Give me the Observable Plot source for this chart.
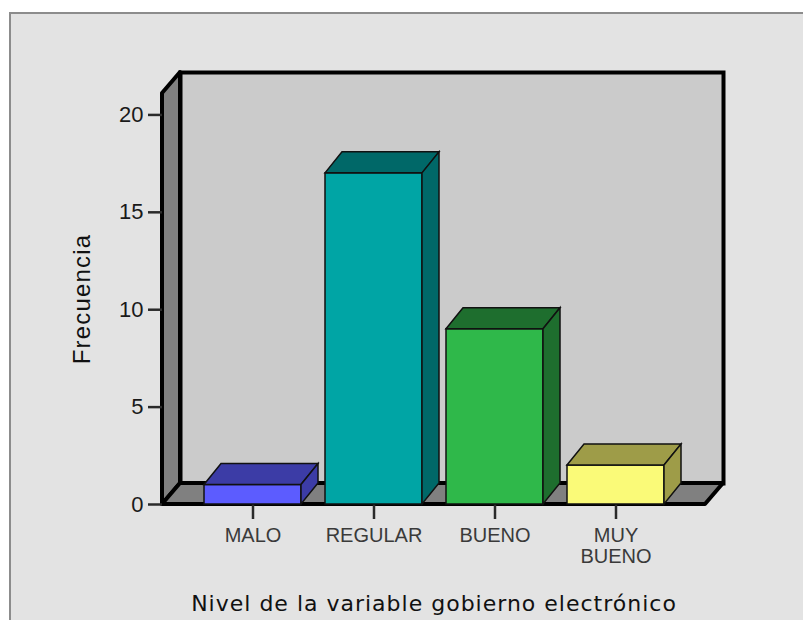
<!DOCTYPE html>
<html>
<head>
<meta charset="utf-8">
<script src="https://cdn.jsdelivr.net/npm/d3@7"></script>
<script src="https://cdn.jsdelivr.net/npm/@observablehq/plot@0.6"></script>
<style>
  html, body { margin: 0; padding: 0; background: #ffffff; width: 803px; height: 620px; overflow: hidden; }
  #panel { position: absolute; left: 9px; top: 12px; right: 0; bottom: 0; background: #e3e3e3;
           border-top: 2px solid #8c8c8c; border-left: 2px solid #8c8c8c; }
  #chart { position: absolute; left: 0; top: 0; }
</style>
</head>
<body>
<div id="panel"></div>
<div id="chart"></div>
<script>
// Frecuencia por nivel de la variable gobierno electrónico
const niveles = ["MALO", "REGULAR", "BUENO", "MUY BUENO"];
const frecuencias = [1, 17, 9, 2];
const etiquetas = ["MALO", "REGULAR", "BUENO", "MUY\nBUENO"];
const marcasY = [0, 5, 10, 15, 20];
const maxY = 21.1;

// Colores: cara frontal y caras en sombra (superior y lateral)
const coloresFrente = ["#5c5cff", "#00a5a5", "#2fb84a", "#fafa78"];
const coloresSombra = ["#3c3ca6", "#006868", "#1e6e2e", "#9e9c48"];

const tabla = niveles.map((nivel, i) => ({nivel, frecuencia: frecuencias[i]}));

// Profundidad de la perspectiva
const paredDx = 18, paredDy = -21;
const barraDx = 17, barraDy = -21;
const grosorBorde = 4;

const puntos = pts => pts.map(p => p.join(",")).join(" ");

// Pared izquierda y suelo del cubo 3D
function paredes(index, scales, values, dims) {
  const {width, height, marginLeft, marginRight, marginTop, marginBottom} = dims;
  const x0 = marginLeft, x1 = width - marginRight, y0 = marginTop, y1 = height - marginBottom;
  const g = d3.create("svg:g")
    .attr("fill", "#808080")
    .attr("stroke", "#000")
    .attr("stroke-width", grosorBorde)
    .attr("stroke-linejoin", "round");
  g.append("polygon").attr("points", puntos([[x0, y0], [x0 + paredDx, y0 + paredDy], [x0 + paredDx, y1 + paredDy], [x0, y1]]));
  g.append("polygon").attr("points", puntos([[x0, y1], [x0 + paredDx, y1 + paredDy], [x1 + paredDx, y1 + paredDy], [x1, y1]]));
  return g.node();
}

// Barras como prismas: cara frontal de Plot, más cara superior y lateral
function prisma(index, scales, values, dims, context, next) {
  const g = next(index, scales, values, dims, context);
  const rects = Array.from(g.querySelectorAll("rect"));
  rects.forEach((rect, j) => {
    const i = index[j];
    const x = +rect.getAttribute("x"), y = +rect.getAttribute("y");
    const w = +rect.getAttribute("width"), h = +rect.getAttribute("height");
    const caras = [
      [[x, y], [x + barraDx, y + barraDy], [x + w + barraDx, y + barraDy], [x + w, y]],
      [[x + w, y], [x + w + barraDx, y + barraDy], [x + w + barraDx, y + h + barraDy], [x + w, y + h]]
    ];
    for (const cara of caras) {
      const p = document.createElementNS("http://www.w3.org/2000/svg", "polygon");
      p.setAttribute("points", puntos(cara));
      p.setAttribute("fill", coloresSombra[i]);
      g.appendChild(p);
    }
  });
  return g;
}

const titulo = "Nivel de la variable gobierno electrónico";

const grafico = Plot.plot({
  width: 803,
  height: 620,
  marginLeft: 162,
  marginRight: 98,
  marginTop: 93,
  marginBottom: 116,
  style: {background: "transparent", fontFamily: "Liberation Sans, Arial, sans-serif", color: "#1a1a1a"},
  x: {type: "band", domain: niveles, paddingInner: 0.2, paddingOuter: 0.33},
  y: {domain: [0, maxY]},
  color: {domain: niveles, range: coloresFrente},
  marks: [
    Plot.frame({fill: "#cbcbcb", stroke: "#000", strokeWidth: grosorBorde, dx: paredDx, dy: paredDy}),
    paredes,
    Plot.axisY({ticks: marcasY, tickSize: 14, tickPadding: 5, fontSize: 22, label: null, strokeWidth: 2.5, stroke: "#2a2a2a"}),
    Plot.axisX({tickSize: 15, tickPadding: 8, fontSize: 20, label: null, strokeWidth: 2.5, stroke: "#2a2a2a",
                fill: "#3a3a3a", lineHeight: 1.05,
                tickFormat: d => etiquetas[niveles.indexOf(d)]}),
    Plot.barY(tabla, {x: "nivel", y: "frecuencia", fill: "nivel", stroke: "#111", strokeWidth: 1.5, render: prisma}),
    Plot.text(["Frecuencia"], {frameAnchor: "left", dx: -80, rotate: -90, fontSize: 24, fill: "#111",
                               textAnchor: "middle", lineAnchor: "middle"}),
    Plot.text([titulo], {frameAnchor: "bottom", dy: 99, fontSize: 22, fill: "#111",
                         fontFamily: "DejaVu Sans", textAnchor: "middle", lineAnchor: "middle"})
  ]
});

d3.select(grafico).selectAll("text")
  .filter(function () { return this.textContent === titulo; })
  .style("letter-spacing", "1px");
d3.select(grafico).selectAll("text")
  .filter(function () { return this.textContent === "Frecuencia"; })
  .style("letter-spacing", "1.2px");

document.getElementById("chart").appendChild(grafico);
</script>
</body>
</html>
